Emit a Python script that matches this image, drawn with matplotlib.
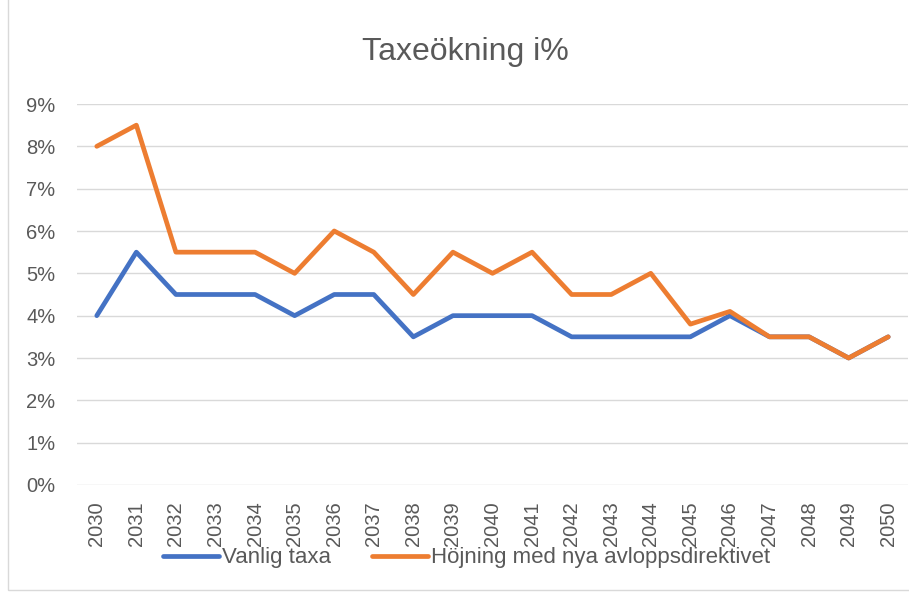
import matplotlib
matplotlib.use("Agg")
import matplotlib.pyplot as plt
from matplotlib.patches import Rectangle

years = [str(y) for y in range(2030, 2051)]
vanlig = [4, 5.5, 4.5, 4.5, 4.5, 4, 4.5, 4.5, 3.5, 4, 4, 4, 3.5, 3.5, 3.5, 3.5, 4, 3.5, 3.5, 3, 3.5]
hojning = [8, 8.5, 5.5, 5.5, 5.5, 5, 6, 5.5, 4.5, 5.5, 5, 5.5, 4.5, 4.5, 5, 3.8, 4.1, 3.5, 3.5, 3, 3.5]
yticks = list(range(0, 10))
ytick_labels = [f"{v}%" for v in yticks]

plt.rcParams['font.family'] = ['Liberation Sans', 'DejaVu Sans']
W, H = 909, 592
fig = plt.figure(figsize=(W / 100, H / 100), dpi=100)
fig.patches.append(Rectangle((8 / W, 2 / H), 1.2, 1.2, transform=fig.transFigure,
                             fill=False, edgecolor='#D9D9D9', lw=1))

ax = fig.add_axes([77 / W, 1 - 485 / H, (908 - 77) / W, (485 - 104) / H])
x = list(range(len(years)))
ax.plot(x, vanlig, color='#4472C4', lw=3.4, solid_joinstyle='round', solid_capstyle='round', label='Vanlig taxa', zorder=3)
ax.plot(x, hojning, color='#ED7D31', lw=3.4, solid_joinstyle='round', solid_capstyle='round', label='Höjning med nya avloppsdirektivet', zorder=4)
ax.set_xlim(-0.5, len(years) - 0.5)
ax.set_ylim(0, 9)
ax.set_yticks(yticks)
ax.set_yticklabels(ytick_labels)
ax.set_xticks(x)
ax.set_xticklabels(years, rotation=90)
ax.grid(axis='y', color='#D9D9D9', lw=1)
ax.set_axisbelow(True)
for s in ax.spines.values():
    s.set_visible(False)
ax.tick_params(axis='both', length=0, colors='#595959', labelsize=14.5)
ax.tick_params(axis='y', pad=15.5)
ax.tick_params(axis='x', pad=12)

fig.text(465 / W, 1 - 52 / H, 'Taxeökning i%', ha='center', va='center', fontsize=23, color='#595959')

leg = fig.legend(loc='center', bbox_to_anchor=(467 / W, 1 - 558 / H), ncol=2, frameon=False,
                 fontsize=16, handlelength=2.5, handletextpad=0.15, columnspacing=1.85, labelcolor='#595959')

fig.savefig('out.png', dpi=100)
